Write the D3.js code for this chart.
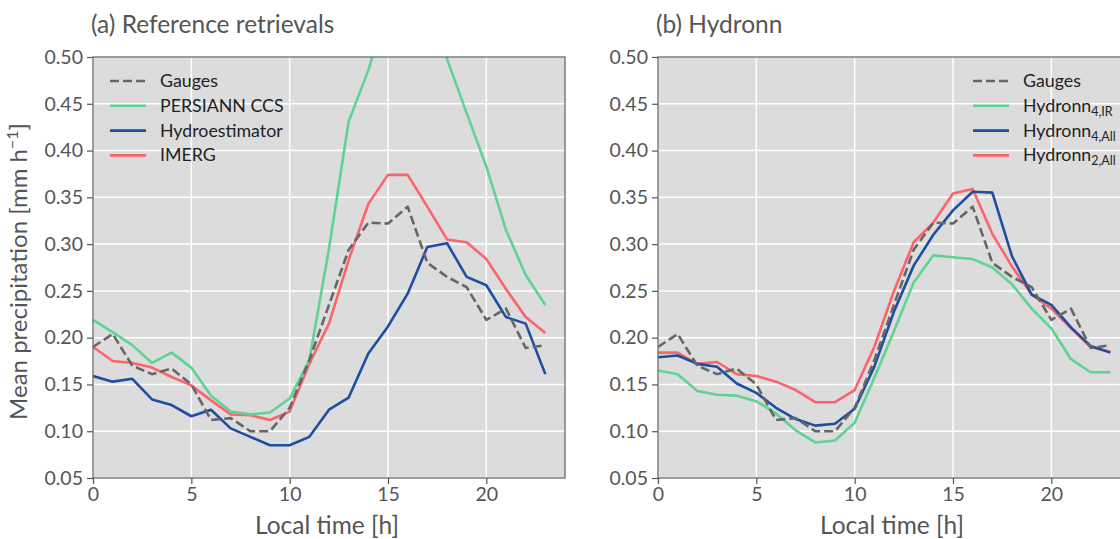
<!doctype html><html><head><meta charset="utf-8"></head><body style="margin:0;background:#fff"><script src='https://d3js.org/d3.v7.min.js'></script>

<script>
  // hourly means, local time 0..23
  const hours = [0,1,2,3,4,5,6,7,8,9,10,11,12,13,14,15,16,17,18,19,20,21,22,23];
  const gauges = [0.190,0.204,0.170,0.161,0.167,0.150,0.112,0.114,0.100,0.100,0.125,0.176,0.235,0.294,0.323,0.322,0.340,0.280,0.265,0.254,0.219,0.231,0.189,0.192];
  const persiann = [0.219,0.206,0.192,0.173,0.184,0.168,0.138,0.121,0.118,0.120,0.135,0.176,0.295,0.431,0.486,0.555,0.575,0.560,0.498,0.440,0.383,0.315,0.267,0.235];
  const hydroest = [0.159,0.153,0.156,0.134,0.128,0.116,0.123,0.103,0.094,0.085,0.085,0.094,0.123,0.136,0.183,0.212,0.247,0.297,0.301,0.265,0.256,0.222,0.215,0.161];
  const imerg = [0.190,0.175,0.173,0.168,0.158,0.149,0.133,0.118,0.117,0.112,0.121,0.172,0.215,0.283,0.343,0.374,0.374,0.340,0.305,0.302,0.284,0.252,0.222,0.205];
  const hydronn4IR = [0.165,0.161,0.143,0.139,0.138,0.132,0.119,0.101,0.088,0.090,0.109,0.157,0.207,0.259,0.288,0.286,0.284,0.275,0.257,0.231,0.210,0.177,0.163,0.163];
  const hydronn4All = [0.179,0.181,0.172,0.169,0.151,0.141,0.125,0.113,0.106,0.108,0.124,0.169,0.228,0.277,0.310,0.336,0.356,0.355,0.287,0.246,0.235,0.211,0.191,0.184];
  const hydronn2All = [0.184,0.184,0.172,0.174,0.161,0.159,0.153,0.144,0.131,0.131,0.144,0.190,0.250,0.302,0.323,0.354,0.359,0.311,0.276,0.246,0.231,0.210,0.190,0.185];

  const xTicks = [0,5,10,15,20];
  const yTicks = [0.05,0.10,0.15,0.20,0.25,0.30,0.35,0.40,0.45,0.50];

  const font = "Lato, 'Open Sans', sans-serif";
  const textCol = "#555";
  const colGauge = "#666666", colGreen = "#5fd394", colBlue = "#1d4ea1", colRed = "#fb646a";

  const panels = [
    {left: 93, title: "(a) Reference retrievals", legendX: 110,
     series: [
       {name: "Gauges", values: gauges, color: colGauge, dash: "9,4"},
       {name: "PERSIANN CCS", values: persiann, color: colGreen},
       {name: "Hydroestimator", values: hydroest, color: colBlue},
       {name: "IMERG", values: imerg, color: colRed}
     ]},
    {left: 658, title: "(b) Hydronn", legendX: 973,
     series: [
       {name: "Gauges", values: gauges, color: colGauge, dash: "9,4"},
       {name: "Hydronn", sub: "4,IR", values: hydronn4IR, color: colGreen},
       {name: "Hydronn", sub: "4,All", values: hydronn4All, color: colBlue},
       {name: "Hydronn", sub: "2,All", values: hydronn2All, color: colRed}
     ]}
  ];

  const W = 1120, H = 539;
  const plotTop = 57, plotW = 472, plotH = 421;

  var svg = d3.select("body").append("svg")
    .attr("width", W).attr("height", H)
    .style("font-family", font);

  var y = d3.scaleLinear().domain([0.05, 0.5]).range([plotH, 0]);

  panels.forEach(function(p, pi) {
    var x = d3.scaleLinear().domain([0, 24]).range([0, plotW]);
    var g = svg.append("g").attr("transform", "translate(" + p.left + "," + plotTop + ")");

    g.append("rect").attr("width", plotW).attr("height", plotH).attr("fill", "#dcdcdc");

    // grid
    g.selectAll(".gx").data(xTicks).enter().append("line")
      .attr("x1", d => x(d)).attr("x2", d => x(d)).attr("y1", 0).attr("y2", plotH)
      .attr("stroke", "#fff").attr("stroke-width", 1.5);
    g.selectAll(".gy").data(yTicks).enter().append("line")
      .attr("y1", d => y(d)).attr("y2", d => y(d)).attr("x1", 0).attr("x2", plotW)
      .attr("stroke", "#fff").attr("stroke-width", 1.5);

    var clipId = "clip" + pi;
    g.append("clipPath").attr("id", clipId).append("rect")
      .attr("width", plotW).attr("height", plotH);

    var line = d3.line().x((d, i) => x(hours[i])).y(d => y(d));
    g.append("g").attr("clip-path", "url(#" + clipId + ")")
      .selectAll("path").data(p.series.slice().reverse()).enter().append("path")
      .attr("d", s => line(s.values))
      .attr("fill", "none")
      .attr("stroke", s => s.color)
      .attr("stroke-width", 2.6)
      .attr("stroke-dasharray", s => s.dash || null)
      .attr("stroke-linejoin", "round");

    // frame
    g.append("rect").attr("width", plotW).attr("height", plotH)
      .attr("fill", "none").attr("stroke", "#6a6a6a").attr("stroke-width", 1.3);

    var ax = g.append("g").attr("transform", "translate(0," + plotH + ")")
      .call(d3.axisBottom(x).tickValues(xTicks).tickSize(6).tickPadding(3).tickFormat(d3.format("d")));
    var ay = g.append("g")
      .call(d3.axisLeft(y).tickValues(yTicks).tickSize(6).tickPadding(4).tickFormat(d3.format(".2f")));
    [ax, ay].forEach(function(a) {
      a.select(".domain").remove();
      a.selectAll("line").attr("stroke", "#555").attr("stroke-width", 1.2);
      a.selectAll("text").attr("fill", textCol).style("font-size", "19.5px").style("font-family", font);
    });

    g.append("text").attr("x", -2).attr("y", -24)
      .attr("fill", textCol).style("font-size", "24.5px").text(p.title);

    g.append("text").attr("x", plotW / 2 - 2).attr("y", plotH + 56)
      .attr("text-anchor", "middle").attr("fill", textCol).style("font-size", "24.5px")
      .text("Local time [h]");

    // legend
    var lg = svg.append("g");
    p.series.forEach(function(s, i) {
      var ly = 81 + i * 24.8;
      lg.append("line").attr("x1", p.legendX).attr("x2", p.legendX + 36)
        .attr("y1", ly).attr("y2", ly)
        .attr("stroke", s.color).attr("stroke-width", 2.6)
        .attr("stroke-dasharray", s.dash || null);
      var t = lg.append("text").attr("x", p.legendX + 50).attr("y", ly + 6)
        .attr("fill", "#222").style("font-size", "17.8px").text(s.name);
      if (s.sub) {
        t.append("tspan").attr("dy", 4).style("font-size", "12.5px").text(s.sub);
      }
    });
  });

  var yl = svg.append("text")
    .attr("transform", "translate(27," + (plotTop + plotH / 2 + 4) + ") rotate(-90)")
    .attr("text-anchor", "middle").attr("fill", textCol).style("font-size", "24px");
  yl.append("tspan").text("Mean precipitation [mm h");
  yl.append("tspan").attr("dy", -9).style("font-size", "16px").text("\u22121");
  yl.append("tspan").attr("dy", 9).text("]");
</script></body></html>
